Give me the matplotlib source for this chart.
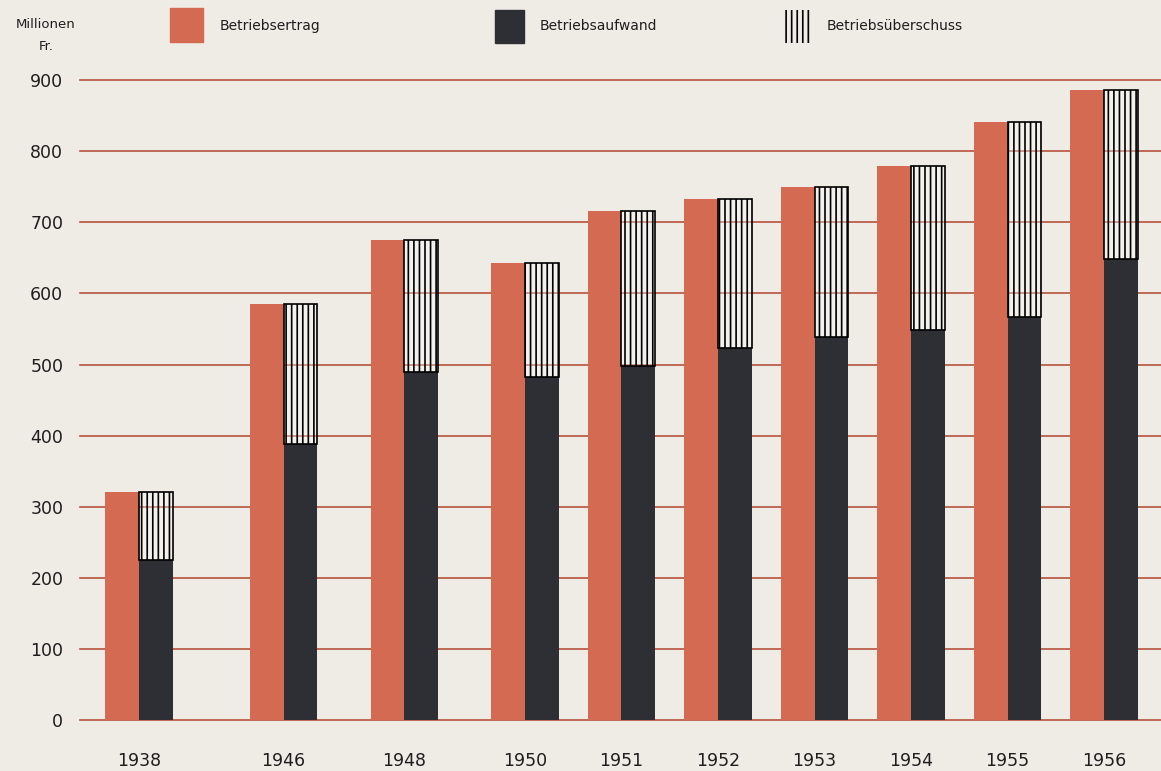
import matplotlib.pyplot as plt
import numpy as np
from matplotlib.patches import Rectangle

# values in Mio. Fr.
years = ["1938", "1946", "1948", "1950", "1951", "1952", "1953", "1954", "1955", "1956"]
ertrag = [321, 585, 675, 643, 716, 733, 750, 779, 841, 886]
aufwand = [225, 388, 489, 482, 498, 523, 539, 548, 567, 648]
yticks = [0, 100, 200, 300, 400, 500, 600, 700, 800, 900]

# layout: spacing between year slots (wider gaps before the early years)
gaps = [1.5, 1.25, 1.25, 1, 1, 1, 1, 1, 1]
x = np.concatenate([[0], np.cumsum(gaps)])
w = 0.35

BG = "#efece5"
ORANGE = "#d46a52"
DARK = "#2e2f35"
GRID = "#b5523c"
TXT = "#1e1e1e"

plt.rcParams["font.family"] = ["DejaVu Sans"]
plt.rcParams["hatch.linewidth"] = 1.2

fig = plt.figure(figsize=(11.61, 7.71), dpi=100, facecolor=BG)
ax = fig.add_axes([80 / 1161, 51 / 771, 1081 / 1161, 647 / 771])
ax.set_facecolor(BG)

ueberschuss = np.array(ertrag) - np.array(aufwand)

ax.bar(x - w / 2, ertrag, w, color=ORANGE, zorder=2)
ax.bar(x + w / 2, aufwand, w, color=DARK, zorder=2)
ax.bar(x + w / 2, ueberschuss, w, bottom=aufwand, facecolor=(1, 1, 1, 0.3),
       edgecolor="black", hatch="|||", linewidth=1.2, zorder=2)

ax.set_ylim(0, 910)
ax.set_xlim(-0.61, 10.59)
ax.set_yticks(yticks)
ax.yaxis.grid(True, color=GRID, linewidth=1.2, zorder=1)
ax.set_axisbelow(True)
for gl in ax.get_ygridlines():
    gl.set_clip_on(False)
ax.set_xticks(x)
ax.set_xticklabels(years)
ax.tick_params(length=0, labelsize=12.5, colors=TXT)
ax.tick_params(axis="x", pad=23)
ax.tick_params(axis="y", pad=12)
for s in ax.spines.values():
    s.set_visible(False)

# legend at the top
def fx(px):
    return px / 1161

def fy(py):
    return 1 - py / 771

fig.add_artist(Rectangle((fx(170), fy(42)), fx(33), 34 / 771, color=ORANGE,
                         transform=fig.transFigure))
fig.add_artist(Rectangle((fx(495), fy(43)), fx(29), 33 / 771, color=DARK,
                         transform=fig.transFigure))
fig.add_artist(Rectangle((fx(782), fy(43)), fx(28), 33 / 771, facecolor="none",
                         edgecolor="black", hatch="|||", linewidth=0,
                         transform=fig.transFigure))
fig.text(fx(220), fy(26), "Betriebsertrag", fontsize=10, va="center", color=TXT)
fig.text(fx(540), fy(26), "Betriebsaufwand", fontsize=10, va="center", color=TXT)
fig.text(fx(827), fy(26), "Betriebsüberschuss", fontsize=10, va="center", color=TXT)
fig.text(fx(46), fy(25), "Millionen", fontsize=9.5, ha="center", va="center", color=TXT)
fig.text(fx(46), fy(46), "Fr.", fontsize=9.5, ha="center", va="center", color=TXT)

fig.savefig("out.png", dpi=100, facecolor=BG)
